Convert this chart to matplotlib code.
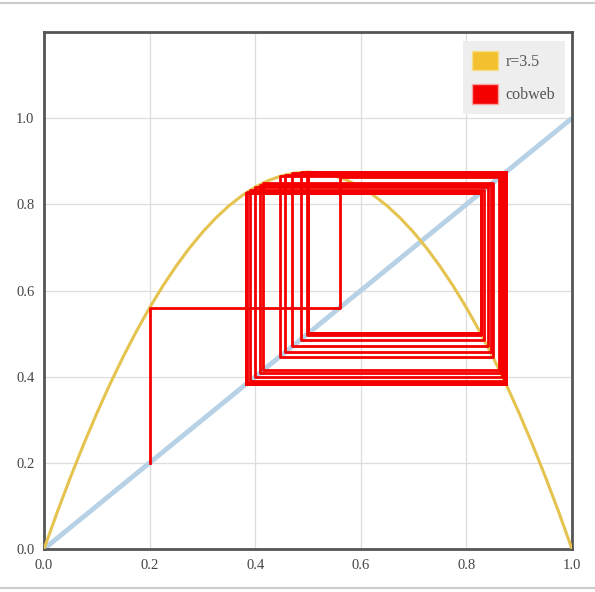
import matplotlib
matplotlib.use("Agg")
import matplotlib.pyplot as plt
from matplotlib.patches import Patch
from matplotlib.lines import Line2D

curve_x = [0.0, 0.025, 0.05, 0.075, 0.1, 0.125, 0.15, 0.175, 0.2, 0.225, 0.25,
           0.275, 0.3, 0.325, 0.35, 0.375, 0.4, 0.425, 0.45, 0.475, 0.5,
           0.525, 0.55, 0.575, 0.6, 0.625, 0.65, 0.675, 0.7, 0.725, 0.75,
           0.775, 0.8, 0.825, 0.85, 0.875, 0.9, 0.925, 0.95, 0.975, 1.0]
curve_y = [0.0, 0.0853, 0.1663, 0.2428, 0.315, 0.3828, 0.4463, 0.5053, 0.56, 0.6103, 0.6563,
           0.6978, 0.735, 0.7678, 0.7963, 0.8203, 0.84, 0.8553, 0.8663, 0.8728, 0.875,
           0.8728, 0.8663, 0.8553, 0.84, 0.8203, 0.7963, 0.7678, 0.735, 0.6978, 0.6563,
           0.6103, 0.56, 0.5053, 0.4463, 0.3828, 0.315, 0.2428, 0.1663, 0.0853, 0.0]

# cobweb iterates starting at x0 = 0.2
iterates = [0.2, 0.56, 0.8624, 0.41533, 0.84991, 0.44647, 0.86497, 0.40879,
            0.84588, 0.45629, 0.86831, 0.40021, 0.84015, 0.47005, 0.87186,
            0.39102, 0.83343, 0.48588, 0.87430, 0.38464, 0.82842, 0.49748,
            0.87498, 0.38287, 0.82698, 0.50079, 0.87500, 0.38282, 0.82694,
            0.50088, 0.87500, 0.38282]

diag = [0.0, 1.0]

# build staircase path: (x0,x0) -> (x0,x1) -> (x1,x1) -> (x1,x2) ...
web_x = [iterates[0]]
web_y = [iterates[0]]
for a, b in zip(iterates[:-1], iterates[1:]):
    web_x += [a, b]
    web_y += [b, b]

fig = plt.figure(figsize=(5.95, 5.92), dpi=100)
ax = fig.add_axes([44 / 595, 43 / 592, 528 / 595, 517 / 592])

ax.plot(diag, diag, color="#b7d2e6", lw=3.5, solid_capstyle="butt", zorder=2)
ax.plot(curve_x, curve_y, color="#e5c34f", lw=2.2, zorder=3)
ax.plot(web_x, web_y, color="#f40000", lw=2.0, zorder=4)

ax.set_xlim(0, 1)
ax.set_ylim(0, 1.2)
ax.set_xticks([0, 0.2, 0.4, 0.6, 0.8, 1.0])
ax.set_yticks([0, 0.2, 0.4, 0.6, 0.8, 1.0])
ax.set_xticklabels(["0.0", "0.2", "0.4", "0.6", "0.8", "1.0"])
ax.set_yticklabels(["0.0", "0.2", "0.4", "0.6", "0.8", "1.0"])
ax.grid(True, color="#dddddd", lw=0.9, zorder=0)
ax.tick_params(length=0, labelsize=10.5, labelcolor="#444444", pad=7)
for lab in ax.get_xticklabels() + ax.get_yticklabels():
    lab.set_family("Liberation Serif")
for sp in ax.spines.values():
    sp.set_color("#555555")
    sp.set_linewidth(2)

handles = [Patch(facecolor="#f3c12f", edgecolor="#f7dc8a", label="r=3.5"),
           Patch(facecolor="#f40000", edgecolor="#f7a0a0", label="cobweb")]
leg = ax.legend(handles=handles, loc="upper right", bbox_to_anchor=(1.002, 0.998),
                frameon=True, fancybox=False, facecolor="#eeeeee", edgecolor="none",
                framealpha=1, handlelength=1.6, handleheight=1.5, borderpad=0.6,
                labelspacing=0.9, handletextpad=0.5,
                prop={"family": "Liberation Serif", "size": 11.5})
for t in leg.get_texts():
    t.set_color("#555555")

# thin frame lines of the screenshot
fig.add_artist(Line2D([0, 1], [1 - 3 / 592, 1 - 3 / 592], color="#cccccc", lw=1.5))
fig.add_artist(Line2D([0, 1], [4 / 592, 4 / 592], color="#cccccc", lw=1.5))

fig.savefig("out.png", dpi=100)
